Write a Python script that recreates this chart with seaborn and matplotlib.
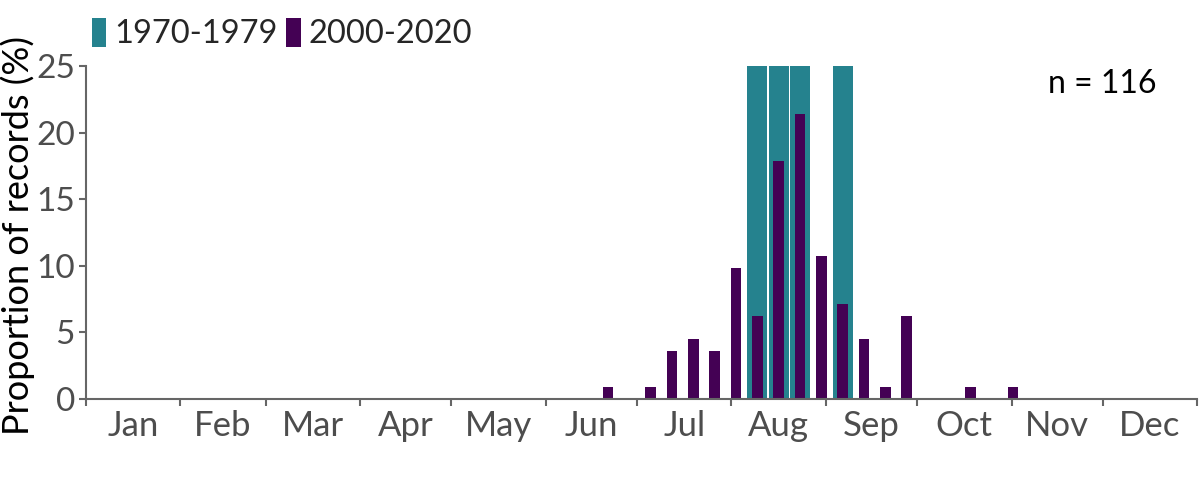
import numpy as np
import pandas as pd
import matplotlib
matplotlib.use("Agg")
import matplotlib.pyplot as plt
import seaborn as sns

# Weekly bins (week index from 1 Jan), proportion of records in %
week_1970 = [31, 32, 33, 35]
pct_1970 = [25.0, 25.0, 25.0, 25.0]

week_2000 = [24, 26, 27, 28, 29, 30, 31, 32, 33, 34, 35, 36, 37, 38, 41, 43]
pct_2000 = [0.89, 0.89, 3.57, 4.46, 3.57, 9.82, 6.25, 17.86, 21.43, 10.71,
            7.14, 4.46, 0.89, 6.25, 0.89, 0.89]

months = ["Jan", "Feb", "Mar", "Apr", "May", "Jun",
          "Jul", "Aug", "Sep", "Oct", "Nov", "Dec"]
month_days = [31, 28, 31, 30, 31, 30, 31, 31, 30, 31, 30, 31]
n_label = "n = 116"

teal = "#25828E"
purple = "#440154"
grey_txt = "#4D4D4D"
grey_line = "#666666"

sns.set_style("ticks")
plt.rcParams["font.family"] = ["Lato", "DejaVu Sans"]

# day-of-year centre of each weekly bin
df70 = pd.DataFrame({"day": np.array(week_1970) * 7 + 3.5, "pct": pct_1970})
df00 = pd.DataFrame({"day": np.array(week_2000) * 7 + 3.5, "pct": pct_2000})

fig = plt.figure(figsize=(12, 4.8), dpi=100)
ax = fig.add_axes([0.0717, 0.169, 0.926, 0.6935])

sns.barplot(data=df70, x="day", y="pct", native_scale=True, width=0.94,
            color=teal, saturation=1, linewidth=0, ax=ax, label="1970-1979")
sns.barplot(data=df00, x="day", y="pct", native_scale=True, width=0.5,
            color=purple, saturation=1, linewidth=0, ax=ax, label="2000-2020")

edges = np.concatenate([[0], np.cumsum(month_days)])
mids = (edges[:-1] + edges[1:]) / 2
ax.set_xlim(0, 365)
ax.set_ylim(0, 25)
ax.set_xticks(edges)
ax.set_xticklabels([])
ax.set_xticks(mids, minor=True)
ax.set_xticklabels(months, minor=True)
ax.tick_params(axis="x", which="minor", length=0, pad=8)
ax.tick_params(axis="x", which="major", length=5, width=1.5, color=grey_line)
ax.set_yticks([0, 5, 10, 15, 20, 25])
ax.tick_params(axis="y", length=5, width=1.5, color=grey_line, pad=3)
for lab in ax.get_xticklabels(minor=True):
    lab.set_fontsize(25)
    lab.set_color(grey_txt)
for lab in ax.get_yticklabels():
    lab.set_fontsize(24)
    lab.set_color(grey_txt)

sns.despine(ax=ax)
for side in ["left", "bottom"]:
    ax.spines[side].set_color(grey_line)
    ax.spines[side].set_linewidth(1.5)

ax.set_xlabel("")
ax.set_ylabel("Proportion of records (%)", fontsize=26, color="black")
ax.yaxis.set_label_coords(-0.046, 0.49)

ax.text(0.963, 0.945, n_label, transform=ax.transAxes, ha="right", va="center",
        fontsize=23, color="black")

ax.legend(loc="lower left", bbox_to_anchor=(0.005, 1.05), ncol=2, frameon=False,
          fontsize=23.5, handlelength=0.45, handleheight=1.0, handletextpad=0.25,
          columnspacing=0.25, borderaxespad=0, borderpad=0)

fig.savefig("out.png", dpi=100)
